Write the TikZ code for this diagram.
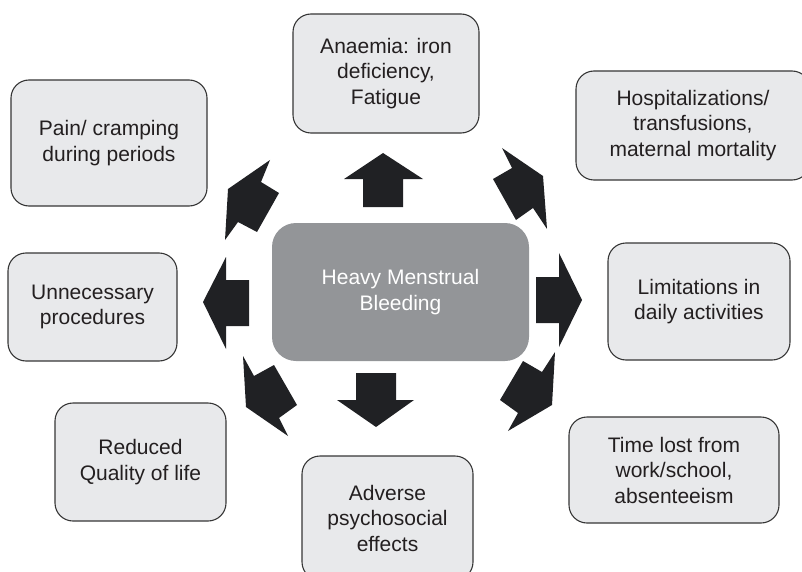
\documentclass[tikz,border=0pt]{standalone}
\usepackage{fontspec}
\setmainfont{Liberation Sans}
\usetikzlibrary{positioning}
\definecolor{boxfill}{HTML}{E8E9EB}
\definecolor{boxline}{HTML}{363636}
\definecolor{hubfill}{HTML}{939598}
\definecolor{arrowfill}{HTML}{202124}
\definecolor{textdark}{HTML}{231F20}

\begin{document}
\begin{tikzpicture}[x=1pt, y=-1pt, font=\fontsize{21}{25.5}\selectfont]
	\tikzstyle{effect}=[draw=boxline, line width=1.1pt, fill=boxfill,
		rounded corners=18pt, align=center, inner sep=0pt, text=textdark]
	\tikzstyle{hub}=[fill=hubfill, rounded corners=24pt, align=center,
		text=white, inner sep=0pt, minimum width=257pt, minimum height=138pt]
	\tikzstyle{blockarrow}=[fill=arrowfill]
	\useasboundingbox (0,0) rectangle (802,572);
	\clip (0,0) rectangle (802,572);
	% % Nodes
	% heavy menstrual bleeding
	\node[hub] (hmb) at (400.5,292) {Heavy Menstrual\\Bleeding};
	% anaemia
	\node[effect, minimum width=186pt, minimum height=119pt] (anaemia)
		at (386,73.5) {Anaemia: iron\\deficiency,\\Fatigue};
	% hospitalizations
	\node[effect, minimum width=234pt, minimum height=109pt] (hospital)
		at (693,125.5) {Hospitalizations/\\transfusions,\\maternal mortality};
	% limitations
	\node[effect, minimum width=182pt, minimum height=117pt] (limits)
		at (699,301.5) {Limitations in\\daily activities};
	% time lost
	\node[effect, minimum width=210pt, minimum height=106pt] (timelost)
		at (674,470) {Time lost from\\work/school,\\absenteeism};
	% adverse effects
	\node[effect, minimum width=171pt, minimum height=124pt] (adverse)
		at (387.5,518) {Adverse\\psychosocial\\effects};
	% quality of life
	\node[effect, minimum width=171pt, minimum height=118pt] (quality)
		at (140.5,462) {Reduced\\Quality of life};
	% procedures
	\node[effect, minimum width=169pt, minimum height=108pt] (procedures)
		at (92.5,307) {Unnecessary\\procedures};
	% pain
	\node[effect, minimum width=196pt, minimum height=126pt] (pain)
		at (109,143) {Pain/ cramping\\during periods};
	% % Connectors
	% up, to anaemia
	\fill[blockarrow] (363,207) -- (363,179) -- (344,179) -- (383,153)
		-- (423,179) -- (403,179) -- (403,207) -- cycle;
	% upper right, to hospitalizations
	\fill[blockarrow] (502,148) -- (543,176) -- (547,229) -- (533,208)
		-- (516,220) -- (493,179) -- (512,168) -- cycle;
	% right, to limitations
	\fill[blockarrow] (536,277) -- (559,277) -- (559,253) -- (582,300)
		-- (559,347) -- (559,323) -- (536,323) -- cycle;
	% lower right, to time lost
	\fill[blockarrow] (555,352) -- (552,405) -- (508,431) -- (518,413)
		-- (500,400) -- (523,361) -- (542,372) -- cycle;
	% down, to adverse effects
	\fill[blockarrow] (356,373) -- (396,373) -- (396,400) -- (414,400)
		-- (376,427) -- (337,400) -- (356,400) -- cycle;
	% lower left, to quality of life
	\fill[blockarrow] (243,356) -- (254,376) -- (274,365) -- (297,405)
		-- (279,418) -- (288,436) -- (246,407) -- cycle;
	% left, to procedures
	\fill[blockarrow] (249,280) -- (226,280) -- (226,257) -- (203,302)
		-- (226,349) -- (226,326) -- (249,326) -- cycle;
	% upper left, to pain
	\fill[blockarrow] (270,160) -- (261,182) -- (279,193) -- (257,232)
		-- (238,222) -- (225,240) -- (228,189) -- cycle;
\end{tikzpicture}
\end{document}
